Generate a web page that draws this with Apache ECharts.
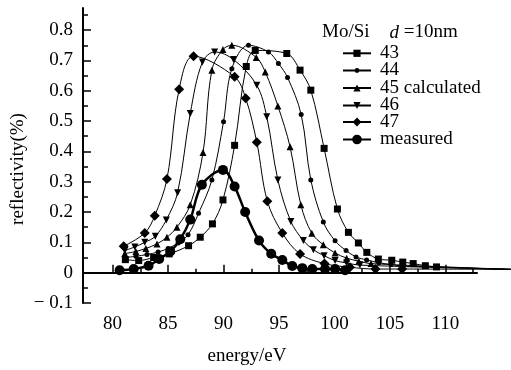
<!DOCTYPE html>
<html>
<head>
<meta charset="utf-8">
<script src="https://cdn.jsdelivr.net/npm/echarts@6/dist/echarts.min.js"></script>
<style>
  html, body { margin: 0; padding: 0; background: #fff; }
  #chart { width: 511px; height: 370px; }
</style>
</head>
<body>
<div id="chart"></div>
<script>
// values (energy in eV, reflectivity)
const energy43 = [81.15, 82.35, 83.7, 85.1, 86.85, 87.9, 89.0, 89.95, 91.0, 92.05, 92.86, 95.7, 96.9, 97.87, 99.07, 100.27, 101.26, 102.16, 102.92, 103.96, 105.17, 106.16, 107.1, 108.2, 109.2, 115.9];
const refl43 = [0.043, 0.04, 0.05, 0.062, 0.089, 0.117, 0.161, 0.24, 0.42, 0.68, 0.733, 0.723, 0.668, 0.602, 0.41, 0.21, 0.133, 0.098, 0.067, 0.045, 0.041, 0.035, 0.03, 0.023, 0.019, 0.011];

const energy44 = [81.1, 82.1, 83.1, 84.1, 85.0, 85.9, 86.8, 87.75, 88.95, 90.0, 90.75, 92.25, 94.05, 94.95, 95.77, 97.0, 97.87, 99.0, 100.06, 101.05, 101.95, 102.9, 104.0, 105.1, 106.2, 115.9];
const refl44 = [0.05, 0.054, 0.06, 0.068, 0.08, 0.098, 0.125, 0.196, 0.306, 0.498, 0.673, 0.75, 0.728, 0.69, 0.644, 0.522, 0.306, 0.167, 0.105, 0.073, 0.052, 0.042, 0.033, 0.027, 0.022, 0.011];

const energy45 = [81.1, 82.1, 83.0, 84.0, 84.9, 85.8, 87.0, 88.15, 88.95, 89.95, 90.75, 92.95, 93.76, 94.9, 96.0, 96.97, 97.96, 99.0, 100.06, 101.1, 102.2, 103.3, 115.9];
const refl45 = [0.063, 0.07, 0.08, 0.095, 0.117, 0.15, 0.224, 0.396, 0.668, 0.736, 0.75, 0.71, 0.662, 0.55, 0.415, 0.224, 0.13, 0.092, 0.065, 0.048, 0.038, 0.03, 0.011];

const energy46 = [81.1, 82.0, 82.9, 83.85, 84.84, 85.86, 87.0, 88.1, 89.2, 90.9, 93.0, 93.9, 94.9, 96.07, 97.2, 98.1, 99.07, 100.06, 101.1, 102.3, 115.9];
const refl46 = [0.073, 0.085, 0.1, 0.12, 0.174, 0.264, 0.525, 0.695, 0.728, 0.703, 0.618, 0.514, 0.306, 0.169, 0.106, 0.076, 0.056, 0.04, 0.032, 0.025, 0.011];

const energy47 = [81.0, 82.9, 83.8, 84.9, 86.0, 87.3, 91.0, 92.0, 93.0, 93.95, 95.3, 96.9, 99.1, 101.4, 103.7, 106.1, 115.9];
const refl47 = [0.087, 0.131, 0.188, 0.309, 0.605, 0.714, 0.646, 0.575, 0.43, 0.236, 0.131, 0.062, 0.03, 0.018, 0.012, 0.012, 0.011];

const energyMeasured = [80.63, 81.9, 83.24, 84.2, 85.2, 86.1, 87.0, 88.05, 89.95, 91.0, 91.95, 93.2, 94.3, 95.3, 96.2, 97.1, 98.0, 99.15, 100.06, 100.96];
const reflMeasured = [0.008, 0.012, 0.023, 0.045, 0.07, 0.11, 0.175, 0.29, 0.339, 0.284, 0.2, 0.106, 0.0625, 0.042, 0.022, 0.015, 0.012, 0.012, 0.012, 0.008];

// axis ticks
const xLabels = [80, 85, 90, 95, 100, 105, 110];
const xMinorTicks = [82.5, 87.5, 92.5, 97.5, 102.5, 107.5, 112.5];
const yLabels = [-0.1, 0, 0.1, 0.2, 0.3, 0.4, 0.5, 0.6, 0.7, 0.8];
const yMinorTicks = [-0.05, 0.05, 0.15, 0.25, 0.35, 0.45, 0.55, 0.65, 0.75, 0.85];

const FONT = '"Liberation Serif", "Times New Roman", serif';
const X_MIN = 77.33, X_AXIS_END = 112.85, X_PLOT_END = 115.92;
const Y_MIN = -0.1, Y_MAX = 0.873;

const chart = echarts.init(document.getElementById('chart'));

// last point of each calculated curve only carries the line on, no marker
function toData(xs, ys, openEnd) {
  return xs.map((x, i) => (openEnd && i === xs.length - 1)
    ? { value: [x, ys[i]], symbol: 'none' }
    : [x, ys[i]]);
}

function lineSeries(name, xs, ys, symbol, size, rotate, width, openEnd) {
  return {
    name: name,
    type: 'line',
    xAxisIndex: 0,
    yAxisIndex: 0,
    data: toData(xs, ys, openEnd),
    symbol: symbol,
    symbolSize: size,
    symbolRotate: rotate || 0,
    smooth: 0.35,
    clip: false,
    lineStyle: { color: '#000', width: width },
    itemStyle: { color: '#000' }
  };
}

function legendRow(name, centerY, h) {
  return {
    data: [name],
    left: 342,
    top: centerY - 9.5,
    padding: 0,
    itemWidth: 28,
    itemHeight: h,
    selectedMode: false,
    textStyle: { fontFamily: FONT, fontSize: 19, color: '#000', lineHeight: 19, padding: [0, 0, 0, 4] }
  };
}

const axisBase = {
  type: 'value',
  splitLine: { show: false },
  axisLine: { show: false },
  axisLabel: { show: false },
  axisTick: { show: false }
};

const option = {
  backgroundColor: '#fff',
  animation: false,
  title: {
    left: 322,
    top: 23,
    padding: 0,
    text: '{a|Mo/Si}    {b|d}{a| =10nm}',
    textStyle: {
      fontWeight: 'normal',
      rich: {
        a: { fontFamily: FONT, fontSize: 19, color: '#000', fontWeight: 'normal' },
        b: { fontFamily: FONT, fontSize: 19, color: '#000', fontWeight: 'normal', fontStyle: 'italic' }
      }
    }
  },
  legend: [
    legendRow('43', 53.3, 9),
    legendRow('44', 70.5, 6),
    legendRow('45 calculated', 88, 9),
    legendRow('46', 105.5, 9),
    legendRow('47', 122, 11),
    legendRow('measured', 139.5, 12)
  ],
  // grid 0 carries the data and runs to the right edge; grid 1 carries the visible axes
  grid: [
    { left: 83, right: 0, top: 8, bottom: 67 },
    { left: 83, right: 34, top: 8, bottom: 67 }
  ],
  xAxis: [
    Object.assign({}, axisBase, { gridIndex: 0, min: X_MIN, max: X_PLOT_END }),
    Object.assign({}, axisBase, {
      gridIndex: 1, min: X_MIN, max: X_AXIS_END,
      axisLine: { show: true, lineStyle: { color: '#000', width: 2 } },
      axisTick: { show: true, inside: true, length: 8, customValues: xLabels, lineStyle: { color: '#000', width: 1.5 } },
      axisLabel: { show: true, customValues: xLabels, margin: 12, color: '#000', fontFamily: FONT, fontSize: 19 }
    }),
    Object.assign({}, axisBase, {
      gridIndex: 1, min: X_MIN, max: X_AXIS_END, position: 'bottom',
      axisTick: { show: true, inside: true, length: 4, customValues: xMinorTicks, lineStyle: { color: '#000', width: 1.5 } }
    })
  ],
  yAxis: [
    Object.assign({}, axisBase, { gridIndex: 0, min: Y_MIN, max: Y_MAX }),
    Object.assign({}, axisBase, {
      gridIndex: 1, min: Y_MIN, max: Y_MAX,
      axisLine: { show: true, lineStyle: { color: '#000', width: 2 } },
      axisTick: { show: true, inside: true, length: 8, customValues: yLabels, lineStyle: { color: '#000', width: 1.5 } },
      axisLabel: {
        show: true, customValues: yLabels, margin: 10, color: '#000', fontFamily: FONT, fontSize: 19,
        formatter: v => v < 0 ? '\u2212 ' + Math.abs(v).toFixed(1) : (v === 0 ? '0' : v.toFixed(1))
      }
    }),
    Object.assign({}, axisBase, {
      gridIndex: 1, min: Y_MIN, max: Y_MAX, position: 'left',
      axisTick: { show: true, inside: true, length: 5, customValues: yMinorTicks, lineStyle: { color: '#000', width: 1.5 } }
    })
  ],
  graphic: [
    {
      type: 'text', x: 247, y: 356,
      style: { text: 'energy/eV', fill: '#000', font: '19px ' + FONT, textAlign: 'center', textVerticalAlign: 'middle' }
    },
    {
      type: 'text', x: 18, y: 169, rotation: Math.PI / 2,
      style: { text: 'reflectivity(%)', fill: '#000', font: '19px ' + FONT, textAlign: 'center', textVerticalAlign: 'middle' }
    }
  ],
  series: [
    lineSeries('43', energy43, refl43, 'rect', 7, 0, 1, true),
    lineSeries('44', energy44, refl44, 'circle', 5, 0, 1, true),
    lineSeries('45 calculated', energy45, refl45, 'triangle', 7, 0, 1, true),
    lineSeries('46', energy46, refl46, 'triangle', 7, 180, 1, true),
    lineSeries('47', energy47, refl47, 'diamond', 10, 0, 1, true),
    lineSeries('measured', energyMeasured, reflMeasured, 'circle', 10, 0, 2.5, false)
  ]
};

chart.setOption(option);
</script>
</body>
</html>
